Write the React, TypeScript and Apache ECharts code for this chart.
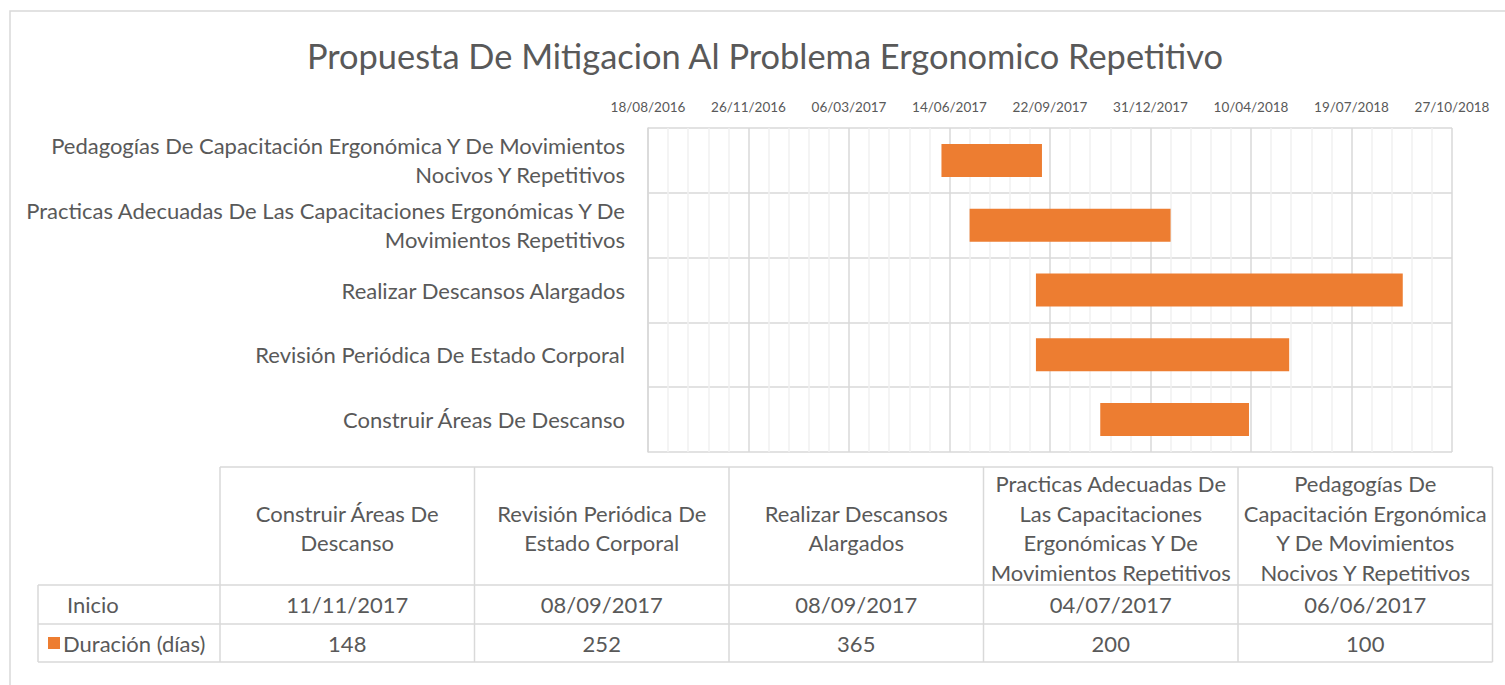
import React, { useEffect, useRef } from "react";
import * as echarts from "echarts";

const categories = [
  "Construir Áreas De Descanso",
  "Revisión Periódica De Estado Corporal",
  "Realizar Descansos Alargados",
  "Practicas Adecuadas De Las Capacitaciones Ergonómicas Y De Movimientos Repetitivos",
  "Pedagogías De Capacitación Ergonómica Y De Movimientos Nocivos Y Repetitivos",
];
const inicio = ["11/11/2017", "08/09/2017", "08/09/2017", "04/07/2017", "06/06/2017"];
const duracion = [148, 252, 365, 200, 100];
const rowLabels = ["Inicio", "Duración (días)"];
const title = "Propuesta De Mitigacion Al Problema Ergonomico Repetitivo";
const axisMin = 42600;
const axisMax = 43400;
const axisInterval = 100;

const EPOCH = Date.UTC(1899, 11, 30);
function toSerial(s: string): number {
  const [d, m, y] = s.split("/").map(Number);
  return Math.round((Date.UTC(y, m - 1, d) - EPOCH) / 86400000);
}
function fromSerial(v: number): string {
  const dt = new Date(EPOCH + v * 86400000);
  const p = (n: number) => (n < 10 ? "0" + n : "" + n);
  return p(dt.getUTCDate()) + "/" + p(dt.getUTCMonth() + 1) + "/" + dt.getUTCFullYear();
}

const FONT = "Lato";
const TXT = "#595959";
const GRID = "#d9d9d9";
const ORANGE = "#ED7D31";
const FS = 22;

let measureCtx: CanvasRenderingContext2D | null = null;
function wrap(text: string, maxW: number, font: string): string {
  if (!measureCtx) measureCtx = document.createElement("canvas").getContext("2d");
  const ctx = measureCtx!;
  ctx.font = font;
  const words = text.split(" ");
  const lines: string[] = [];
  let cur = "";
  for (const w of words) {
    const test = cur ? cur + " " + w : w;
    if (cur && ctx.measureText(test).width > maxW) {
      lines.push(cur);
      cur = w;
    } else cur = test;
  }
  if (cur) lines.push(cur);
  return lines.join("\n");
}

export default function App() {
  const ref = useRef<HTMLDivElement>(null);
  useEffect(() => {
    let chart: echarts.ECharts | null = null;
    let disposed = false;
    const font = `${FS}px "${FONT}"`;
    const draw = () => {
      if (disposed || chart) return;
      chart = echarts.init(ref.current!, undefined, { renderer: "svg" });
      const starts = inicio.map(toSerial);

      const tX0 = 220, colW = 254.5, hTop = 467, hBot = 585, r1 = 624, r2 = 662, lX = 38;
      const tRight = tX0 + colW * categories.length;
      const g: any[] = [];
      const line = (x1: number, y1: number, x2: number, y2: number) =>
        g.push({ type: "line", shape: { x1, y1, x2, y2 }, style: { stroke: GRID, lineWidth: 1.5 }, silent: true });
      line(tX0, hTop, tRight, hTop);
      line(lX, hBot, tRight, hBot);
      line(lX, r1, tRight, r1);
      line(lX, r2, tRight, r2);
      line(lX, hBot, lX, r2);
      for (let i = 0; i <= categories.length; i++) line(tX0 + colW * i, hTop, tX0 + colW * i, r2);
      categories.forEach((c, i) => {
        const cx = tX0 + colW * i + colW / 2;
        g.push({
          type: "text", x: cx, y: (hTop + hBot) / 2 + 2,
          style: { text: wrap(c, 250, font), align: "center", verticalAlign: "middle", lineHeight: 29.5, fill: TXT, font },
        });
        g.push({ type: "text", x: cx, y: (hBot + r1) / 2, style: { text: inicio[i], align: "center", verticalAlign: "middle", fill: TXT, font } });
        g.push({ type: "text", x: cx, y: (r1 + r2) / 2, style: { text: String(duracion[i]), align: "center", verticalAlign: "middle", fill: TXT, font } });
      });
      g.push({ type: "text", x: 67, y: (hBot + r1) / 2, style: { text: rowLabels[0], align: "left", verticalAlign: "middle", fill: TXT, font } });
      g.push({ type: "rect", shape: { x: 48, y: (r1 + r2) / 2 - 6, width: 12, height: 12 }, style: { fill: ORANGE } });
      g.push({ type: "text", x: 63, y: (r1 + r2) / 2, style: { text: rowLabels[1], align: "left", verticalAlign: "middle", fill: TXT, font } });
      g.push({ type: "rect", shape: { x: 10, y: 11, width: 1700, height: 1000 }, style: { fill: "none", stroke: GRID, lineWidth: 1.5 }, silent: true, z: -1 });

      chart.setOption({
        animation: false,
        backgroundColor: "#ffffff",
        title: {
          text: title, left: 760, top: 33, textAlign: "center",
          textStyle: { color: TXT, fontFamily: FONT, fontSize: 34.4, fontWeight: "normal" },
        },
        grid: { left: 648, top: 128, width: 804, height: 324, containLabel: false, outerBoundsMode: "none" },
        xAxis: {
          type: "value", position: "top", min: axisMin, max: axisMax, interval: axisInterval,
          axisLine: { show: false }, axisTick: { show: false },
          axisLabel: { formatter: (v: number) => fromSerial(v), color: TXT, fontFamily: FONT, fontSize: 13.5, margin: 14 },
          splitLine: { show: true, lineStyle: { color: GRID, width: 1.5 } },
          minorTick: { show: false, splitNumber: 5 },
          minorSplitLine: { show: true, lineStyle: { color: "#f0f0f0", width: 1.5 } },
        },
        yAxis: {
          type: "category", data: categories,
          axisLine: { show: true, lineStyle: { color: GRID, width: 1.5 } }, axisTick: { show: false },
          splitLine: { show: true, lineStyle: { color: GRID, width: 1.5 } },
          axisLabel: {
            color: TXT, fontFamily: FONT, fontSize: FS, margin: 23, lineHeight: 29, align: "right",
            formatter: (v: string) => wrap(v, 620, font),
          },
        },
        series: [
          { type: "bar", stack: "g", data: starts, itemStyle: { color: "transparent" }, barWidth: "51%", silent: true },
          { type: "bar", stack: "g", name: rowLabels[1], data: duracion, itemStyle: { color: ORANGE }, barWidth: "51%" },
        ],
        graphic: g,
      });
    };
    const fonts = (document as any).fonts;
    if (fonts && fonts.load) {
      fonts.load(font).then(draw, draw);
      setTimeout(draw, 300);
    } else draw();
    return () => {
      disposed = true;
      if (chart) chart.dispose();
    };
  }, []);
  return <div ref={ref} style={{ position: "fixed", left: 0, top: 0, width: 1505, height: 685 }} />;
}
